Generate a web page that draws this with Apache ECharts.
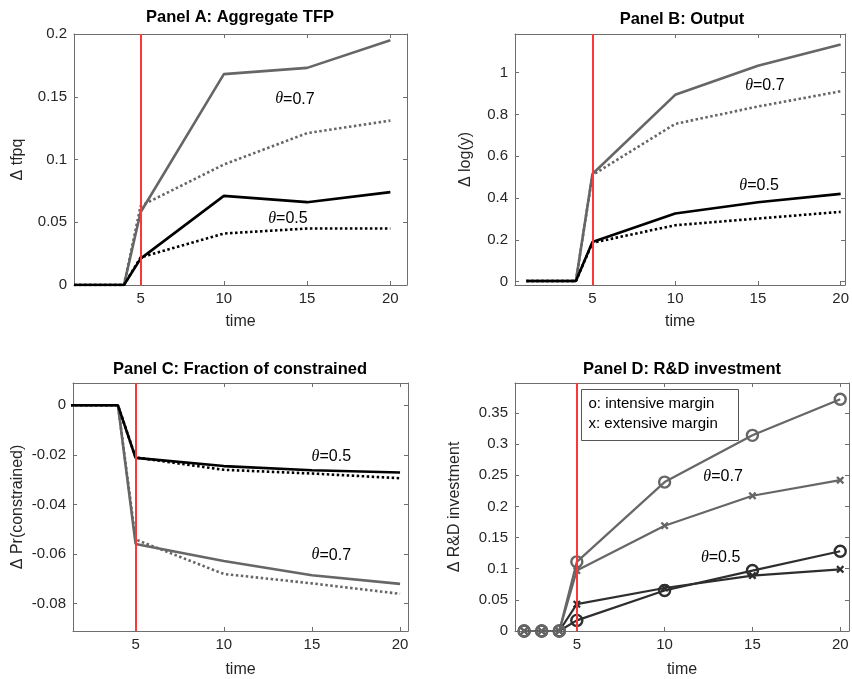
<!DOCTYPE html>
<html>
<head>
<meta charset="utf-8">
<script src="https://cdn.jsdelivr.net/npm/echarts@6/dist/echarts.min.js"></script>
<style>
  html, body { margin: 0; background: #fff; }
  #chart { width: 852px; height: 679px; }
</style>
</head>
<body>
<div id="chart"></div>
<script>
// time grids
const timeTop = [1, 2, 3, 4, 5, 10, 15, 20];
const timeC = [1, 2, 3, 4, 5, 10, 15, 20];
const timeD = [2, 3, 4, 5, 10, 15, 20];

// Panel A: aggregate TFP
const tfpHiSolid = [0, 0, 0, 0, 0.058, 0.168, 0.173, 0.195];
const tfpHiDot = [0, 0, 0, 0, 0.063, 0.096, 0.121, 0.131];
const tfpLoSolid = [0, 0, 0, 0, 0.021, 0.071, 0.066, 0.074];
const tfpLoDot = [0, 0, 0, 0, 0.022, 0.041, 0.045, 0.045];

// Panel B: output
const outHiSolid = [0.003, 0.003, 0.003, 0.003, 0.515, 0.894, 1.033, 1.135];
const outHiDot = [0.003, 0.003, 0.003, 0.003, 0.51, 0.755, 0.838, 0.911];
const outLoSolid = [0.003, 0.003, 0.003, 0.003, 0.19, 0.326, 0.38, 0.42];
const outLoDot = [0.003, 0.003, 0.003, 0.003, 0.186, 0.27, 0.302, 0.334];

// Panel C: fraction of constrained
const conLoSolid = [0, 0, 0, 0, -0.0212, -0.0245, -0.0262, -0.0271];
const conLoDot = [0, 0, 0, 0, -0.021, -0.026, -0.0275, -0.0294];
const conHiSolid = [0, 0, 0, 0, -0.0559, -0.0628, -0.0685, -0.072];
const conHiDot = [0, 0, 0, 0, -0.0541, -0.068, -0.0718, -0.076];

// Panel D: R&D investment
const rdHiInt = [0, 0, 0, 0.111, 0.239, 0.314, 0.372];
const rdHiExt = [0, 0, 0, 0.097, 0.169, 0.217, 0.242];
const rdLoInt = [0, 0, 0, 0.017, 0.065, 0.097, 0.128];
const rdLoExt = [0, 0, 0, 0.043, 0.069, 0.089, 0.099];

// tick labels
const xTicks = [5, 10, 15, 20];
const yTicksA = [0, 0.05, 0.1, 0.15, 0.2];
const yTicksB = [0, 0.2, 0.4, 0.6, 0.8, 1];
const yTicksC = [-0.08, -0.06, -0.04, -0.02, 0];
const yTicksD = [0, 0.05, 0.1, 0.15, 0.2, 0.25, 0.3, 0.35];

const titles = ['Panel A: Aggregate TFP', 'Panel B: Output', 'Panel C: Fraction of constrained', 'Panel D: R&D investment'];
const yNames = ['\u0394 tfpq', '\u0394 log(y)', '\u0394 Pr(constrained)', '\u0394 R&D investment'];

const GRAY = '#666666';
const BLACK = '#000000';
const DARK = '#2e2e2e';
const RED = '#ff3636';
const SANS = 'Liberation Sans, Arial, sans-serif';

const grids = [
  { left: 74, right: 445, top: 34, bottom: 394 },
  { left: 515, right: 3, top: 34, bottom: 394 },
  { left: 73, right: 444, top: 383, bottom: 46 },
  { left: 515, right: 3, top: 383, bottom: 46 }
];
const xRanges = [[1, 21], [0.32, 20.27], [1.45, 20.45], [1.48, 20.5]];
const yRanges = [[0, 0.2], [-0.016, 1.185], [-0.091, 0.009], [0, 0.398]];
const yTicks = [yTicksA, yTicksB, yTicksC, yTicksD];
const yNameGaps = [48, 41, 47, 52];
const xNameGaps = [29, 29, 31, 31];

const frame = { show: true, onZero: false, lineStyle: { color: '#6e6e6e', width: 1 } };

const xAxes = [];
const yAxes = [];
grids.forEach((g, i) => {
  xAxes.push({
    type: 'value', gridIndex: i, min: xRanges[i][0], max: xRanges[i][1],
    position: 'bottom', axisLine: frame, splitLine: { show: false },
    axisTick: { inside: true, length: 4, customValues: xTicks, lineStyle: { color: '#6e6e6e' } },
    axisLabel: { customValues: xTicks, color: '#262626', fontSize: 15, fontFamily: SANS, margin: 6 },
    name: 'time', nameLocation: 'middle', nameGap: xNameGaps[i],
    nameTextStyle: { color: '#262626', fontSize: 16, fontFamily: SANS }
  });
  xAxes.push({
    type: 'value', gridIndex: i, min: xRanges[i][0], max: xRanges[i][1],
    position: 'top', axisLine: frame, splitLine: { show: false },
    axisTick: { inside: true, length: 4, customValues: xTicks, lineStyle: { color: '#6e6e6e' } },
    axisLabel: { show: false }
  });
  yAxes.push({
    type: 'value', gridIndex: i, min: yRanges[i][0], max: yRanges[i][1],
    position: 'left', axisLine: frame, splitLine: { show: false },
    axisTick: { inside: true, length: 4, customValues: yTicks[i], lineStyle: { color: '#6e6e6e' } },
    axisLabel: { customValues: yTicks[i], color: '#262626', fontSize: 15, fontFamily: SANS, margin: 7 },
    name: yNames[i], nameLocation: 'middle', nameGap: yNameGaps[i], nameRotate: 90,
    nameTextStyle: { color: '#262626', fontSize: 16, fontFamily: SANS }
  });
  yAxes.push({
    type: 'value', gridIndex: i, min: yRanges[i][0], max: yRanges[i][1],
    position: 'right', axisLine: frame, splitLine: { show: false },
    axisTick: { inside: true, length: 4, customValues: yTicks[i], lineStyle: { color: '#6e6e6e' } },
    axisLabel: { show: false }
  });
});

function pairs(xs, ys) {
  return xs.map((x, k) => [x, ys[k]]);
}

function thetaLabel(coord, val) {
  return {
    coord: coord,
    value: val,
    label: {
      show: true, position: 'inside',
      formatter: '{t|\u03b8}{n|=' + val + '}',
      rich: {
        t: { fontFamily: 'Liberation Serif, Times New Roman, serif', fontStyle: 'italic', fontSize: 16, color: '#000' },
        n: { fontFamily: SANS, fontSize: 16, color: '#000' }
      }
    }
  };
}

function redLine() {
  return {
    silent: true, symbol: 'none', animation: false,
    label: { show: false },
    lineStyle: { color: RED, width: 2, type: 'solid' },
    data: [{ xAxis: 5 }]
  };
}

function marks(labels) {
  return {
    symbol: 'circle', symbolSize: 1, silent: true, animation: false,
    itemStyle: { color: 'rgba(0,0,0,0)' },
    data: labels
  };
}

function line(i, xs, ys, color, dotted, extra) {
  const s = {
    type: 'line', xAxisIndex: 2 * i, yAxisIndex: 2 * i,
    data: pairs(xs, ys), showSymbol: false, symbol: 'none',
    lineStyle: { color: color, width: 2.6, type: dotted ? [2.5, 2.5] : 'solid' },
    itemStyle: { color: color },
    animation: false
  };
  return Object.assign(s, extra || {});
}

// thick "x" marker outline
const crossPath = 'path://M0,2L2,0L5,3L8,0L10,2L7,5L10,8L8,10L5,7L2,10L0,8L3,5Z';

function marker(i, xs, ys, color, kind) {
  const circle = kind === 'o';
  return {
    type: 'line', xAxisIndex: 2 * i, yAxisIndex: 2 * i,
    data: pairs(xs, ys),
    symbol: circle ? 'circle' : crossPath,
    symbolSize: circle ? 11 : 8,
    showAllSymbol: true,
    lineStyle: { color: color, width: 2.2 },
    itemStyle: circle
      ? { color: 'rgba(0,0,0,0)', borderColor: color, borderWidth: 2.4 }
      : { color: color },
    animation: false
  };
}

const series = [
  // Panel A
  line(0, timeTop, tfpHiDot, GRAY, true),
  line(0, timeTop, tfpLoDot, BLACK, true),
  line(0, timeTop, tfpHiSolid, GRAY, false, {
    markLine: redLine(),
    markPoint: marks([thetaLabel([14.27, 0.148], '0.7'), thetaLabel([13.85, 0.0526], '0.5')])
  }),
  line(0, timeTop, tfpLoSolid, BLACK, false),
  // Panel B
  line(1, timeTop, outHiDot, GRAY, true),
  line(1, timeTop, outLoDot, BLACK, true),
  line(1, timeTop, outHiSolid, GRAY, false, {
    markLine: redLine(),
    markPoint: marks([thetaLabel([15.42, 0.938], '0.7'), thetaLabel([15.07, 0.461], '0.5')])
  }),
  line(1, timeTop, outLoSolid, BLACK, false),
  // Panel C
  line(2, timeC, conHiDot, GRAY, true),
  line(2, timeC, conLoDot, BLACK, true),
  line(2, timeC, conHiSolid, GRAY, false, {
    markLine: redLine(),
    markPoint: marks([thetaLabel([16.1, -0.0206], '0.5'), thetaLabel([16.1, -0.0604], '0.7')])
  }),
  line(2, timeC, conLoSolid, BLACK, false),
  // Panel D
  marker(3, timeD, rdLoExt, DARK, 'x'),
  marker(3, timeD, rdLoInt, DARK, 'o'),
  Object.assign(marker(3, timeD, rdHiExt, GRAY, 'x'), {
    markLine: redLine(),
    markPoint: marks([thetaLabel([13.33, 0.248], '0.7'), thetaLabel([13.19, 0.1176], '0.5')])
  }),
  marker(3, timeD, rdHiInt, GRAY, 'o')
];

const titleCenters = [240, 682, 240, 682];
const titleTops = [9, 11, 361, 361];

const chart = echarts.init(document.getElementById('chart'), null, { renderer: 'canvas' });
chart.setOption({
  animation: false,
  backgroundColor: '#ffffff',
  title: titles.map((t, i) => ({
    text: t, left: titleCenters[i], top: titleTops[i], textAlign: 'center', padding: 0,
    textStyle: { fontFamily: SANS, fontWeight: 'bold', fontSize: 16.5, color: '#000' }
  })),
  grid: grids,
  xAxis: xAxes,
  yAxis: yAxes,
  series: series,
  graphic: [{
    type: 'group', left: 581, top: 389,
    children: [
      { type: 'rect', shape: { x: 0, y: 0, width: 157, height: 51 },
        style: { fill: '#fff', stroke: '#555', lineWidth: 1 } },
      { type: 'text', x: 7, y: 7,
        style: { text: 'o: intensive margin', font: '15px Liberation Sans, Arial, sans-serif', fill: '#000' } },
      { type: 'text', x: 7, y: 27,
        style: { text: 'x: extensive margin', font: '15px Liberation Sans, Arial, sans-serif', fill: '#000' } }
    ]
  }]
});
</script>
</body>
</html>
